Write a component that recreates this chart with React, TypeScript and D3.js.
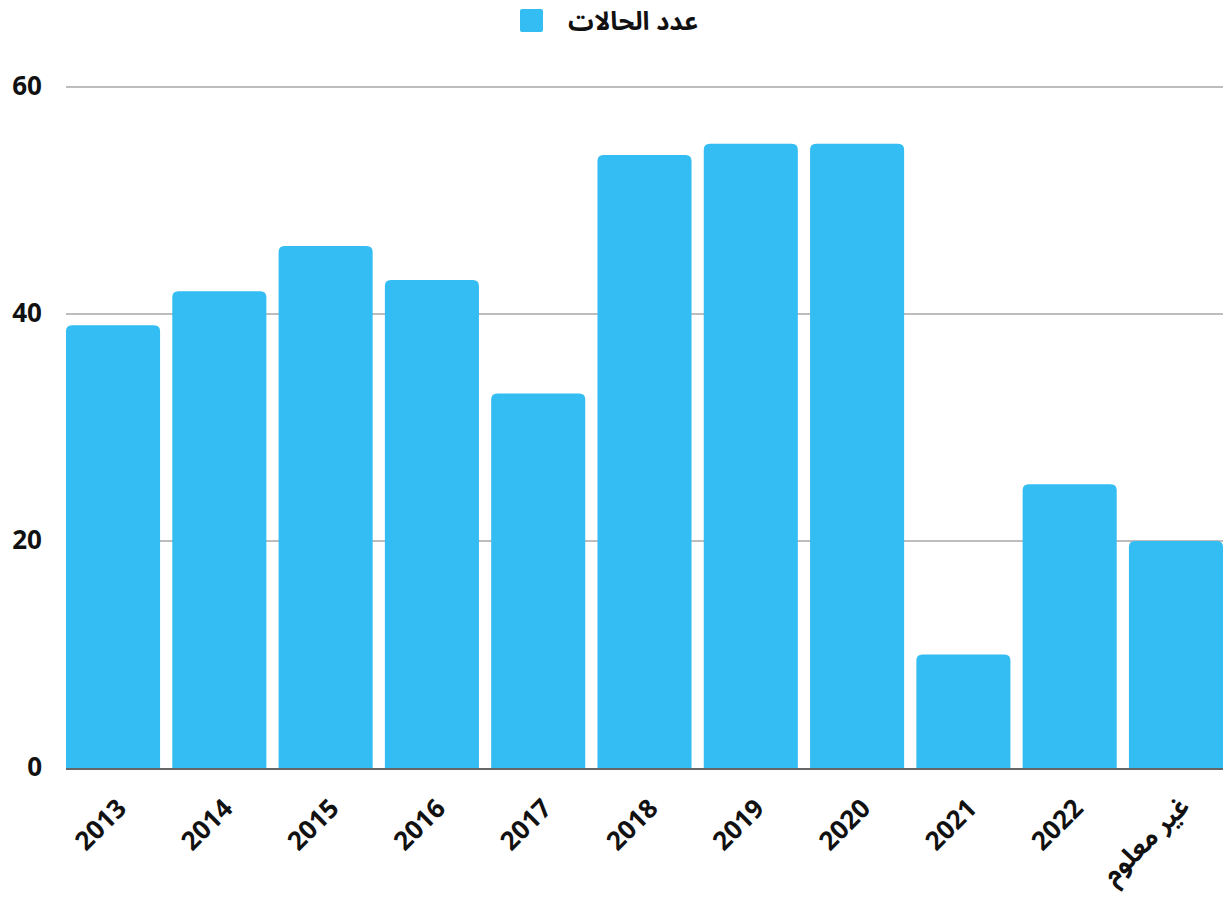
import React from "react";
import * as d3 from "d3";

const categories = ["2013", "2014", "2015", "2016", "2017", "2018", "2019", "2020", "2021", "2022", "غير معلوم"];
const counts = [39, 42, 46, 43, 33, 54, 55, 55, 10, 25, 20];
const yTicks = [0, 20, 40, 60];
const seriesName = "عدد الحالات";

const W = 1223;
const H = 899;
const margin = { top: 87, right: 0, bottom: 131, left: 66 };
const barColor = "#33bdf2";
const font = "'Noto Sans', 'Noto Sans Arabic', 'DejaVu Sans', sans-serif";
const isArabic = (s: string) => /[\u0600-\u06FF]/.test(s);

function roundedTopBar(x: number, y: number, w: number, h: number, r: number) {
  const rr = Math.min(r, h, w / 2);
  return `M${x},${y + h}V${y + rr}Q${x},${y} ${x + rr},${y}H${x + w - rr}Q${x + w},${y} ${x + w},${y + rr}V${y + h}Z`;
}

export default function App() {
  const x = d3
    .scaleBand<string>()
    .domain(categories)
    .range([margin.left, W - margin.right])
    .paddingInner(0.115)
    .paddingOuter(0);
  const y = d3.scaleLinear().domain([0, 60]).range([H - margin.bottom, margin.top]);

  return (
    <svg width={W} height={H} style={{ position: "absolute", left: 0, top: 0, background: "#fff" }} fontFamily={font}>
      {/* legend */}
      <rect x={520} y={9} width={23} height={23} rx={2} fill={barColor} />
      <text x={568} y={20} dominantBaseline="central" fontSize={25.5} fontWeight="bold" fill="#111">
        {seriesName}
      </text>

      {/* grid */}
      {yTicks.filter((t) => t > 0).map((t) => (
        <line key={t} x1={margin.left} x2={W - margin.right} y1={y(t)} y2={y(t)} stroke="#bdbdbd" strokeWidth={2} />
      ))}
      {yTicks.map((t) => (
        <text key={"l" + t} x={42} y={y(t) - 2} textAnchor="end" dominantBaseline="central" fontSize={26} fontWeight="bold" fill="#111">
          {t}
        </text>
      ))}

      {/* bars */}
      {categories.map((c, i) => (
        <path
          key={c}
          d={roundedTopBar(x(c)!, y(counts[i]), x.bandwidth(), y(0) - y(counts[i]), 6)}
          fill={barColor}
        />
      ))}

      {/* baseline */}
      <line x1={margin.left} x2={W - margin.right} y1={y(0) + 1} y2={y(0) + 1} stroke="#666" strokeWidth={2} />

      {/* category labels */}
      {categories.map((c) => {
        const ar = isArabic(c);
        const cx = x(c)! + x.bandwidth() / 2 + 15;
        const cy = y(0) + (ar ? 40 : 42);
        return (
          <text
            key={"x" + c}
            transform={`translate(${cx},${cy}) rotate(-45)`}
            textAnchor="end"
            fontSize={ar ? 26 : 26}
            fontWeight="bold"
            fill="#111"
          >
            {c}
          </text>
        );
      })}
    </svg>
  );
}
